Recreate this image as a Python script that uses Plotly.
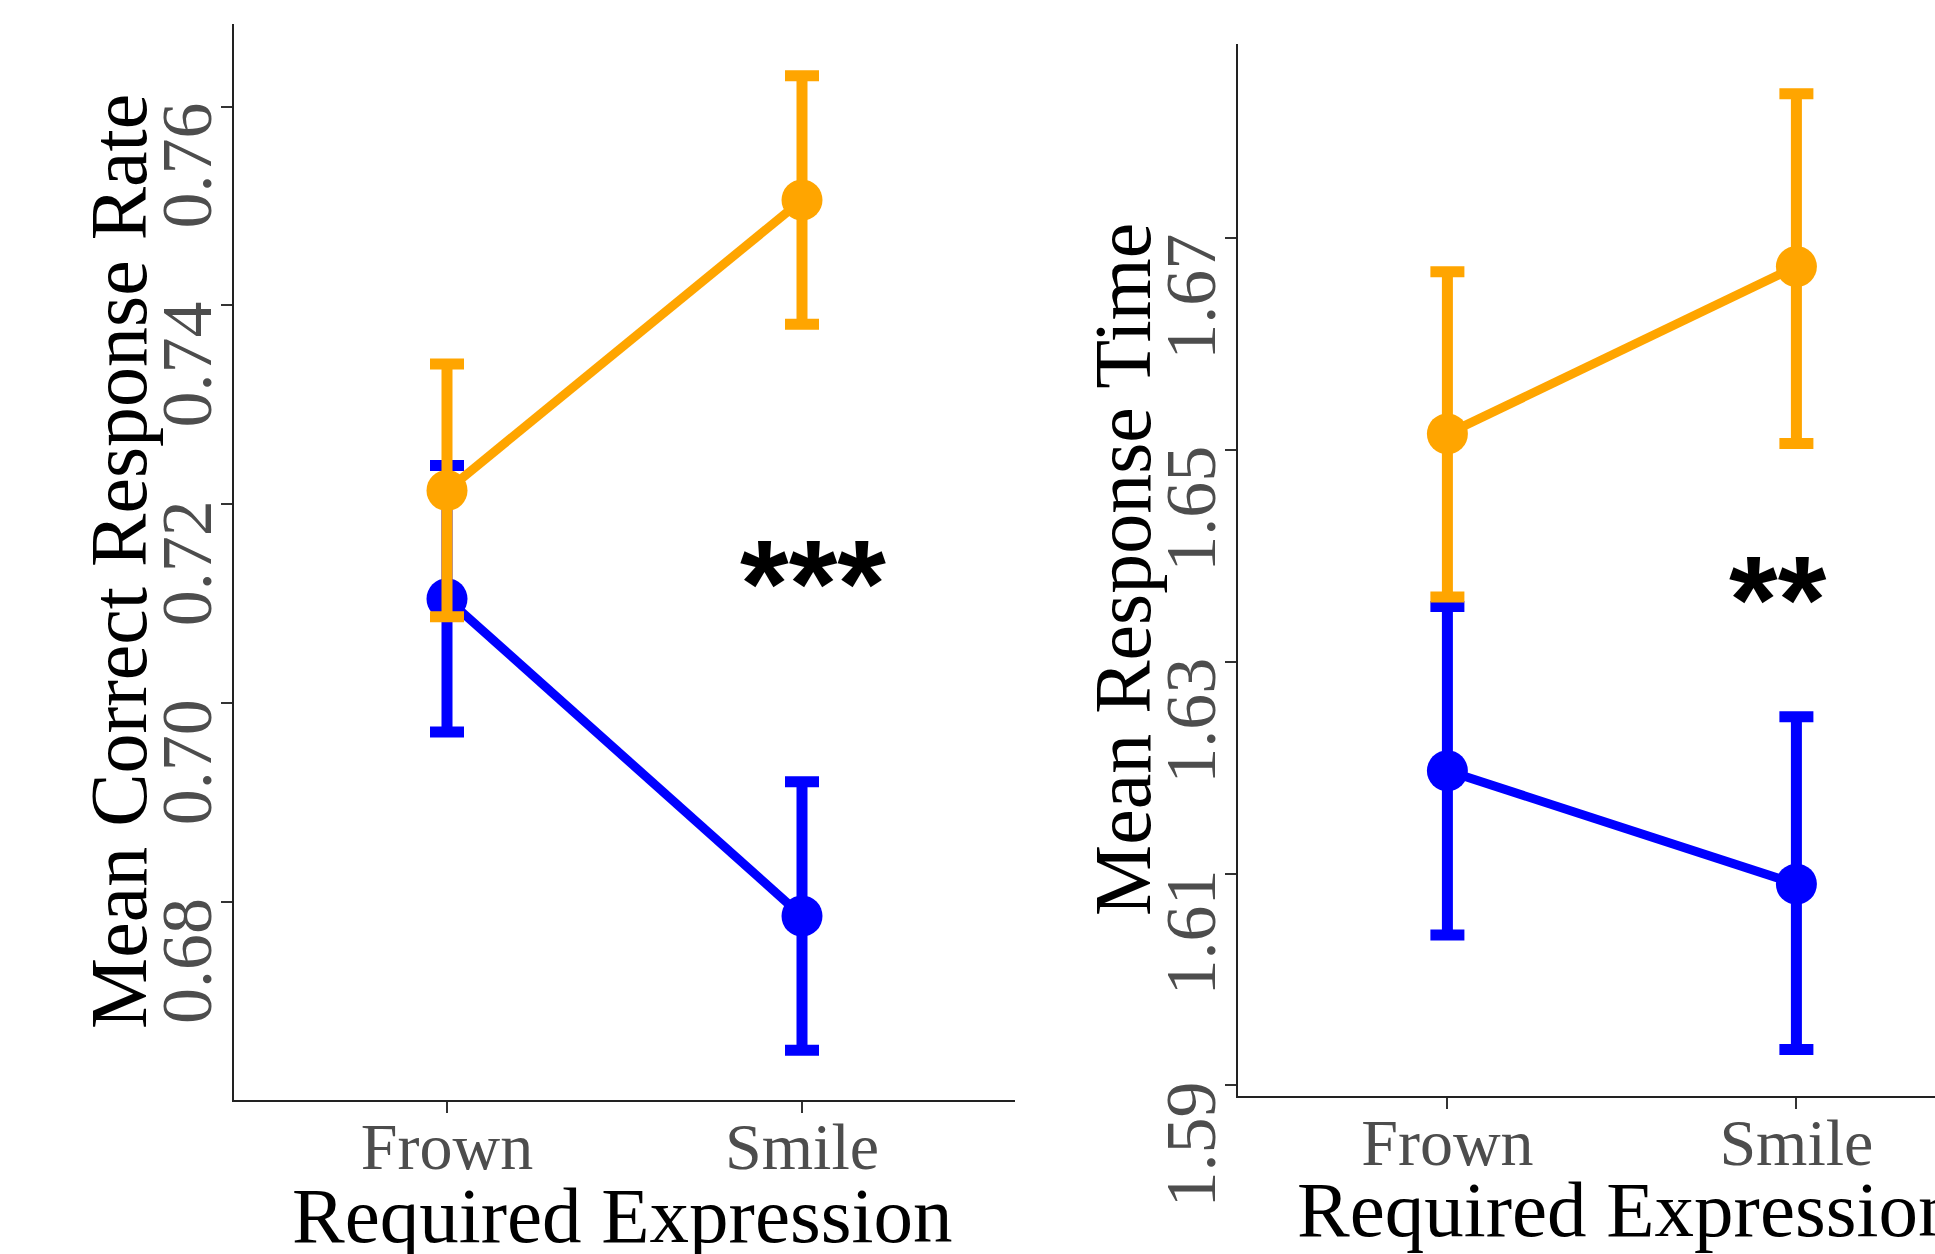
import plotly.graph_objects as go

categories = ["Frown", "Smile"]

# Left panel: Mean Correct Response Rate
acc_orange = [0.7214, 0.7506]
acc_orange_err = [0.0127, 0.0125]
acc_blue = [0.7105, 0.6786]
acc_blue_err = [0.0134, 0.0135]

# Right panel: Mean Response Time
rt_orange = [1.6515, 1.6673]
rt_orange_err = [1.6668 - 1.6515, 1.6836 - 1.6673]
rt_orange_err_minus = [1.6515 - 1.6361, 1.6673 - 1.6506]
rt_blue = [1.6197, 1.609]
rt_blue_err = [1.6352 - 1.6197, 1.6248 - 1.609]
rt_blue_err_minus = [1.6197 - 1.6042, 1.609 - 1.5934]

left_ticks = [0.68, 0.70, 0.72, 0.74, 0.76]
right_ticks = [1.59, 1.61, 1.63, 1.65, 1.67]
left_tick_labels = [f"{v:.2f}" for v in left_ticks]
right_tick_labels = [f"{v:.2f}" for v in right_ticks]

ORANGE = "#FFA500"
BLUE = "#0000FF"
SERIF = "Liberation Serif, Times New Roman, serif"

xpos = [1, 2]

fig = go.Figure()


def add_series(y, err_p, err_m, color, xa, ya):
    fig.add_trace(go.Scatter(
        x=xpos, y=y, mode="lines+markers",
        line=dict(color=color, width=9),
        marker=dict(color=color, size=41),
        error_y=dict(type="data", array=err_p, arrayminus=err_m, symmetric=False,
                     color=color, thickness=11, width=17),
        xaxis=xa, yaxis=ya, showlegend=False, hoverinfo="skip"))


add_series(acc_blue, acc_blue_err, acc_blue_err, BLUE, "x", "y")
add_series(acc_orange, acc_orange_err, acc_orange_err, ORANGE, "x", "y")
add_series(rt_blue, rt_blue_err, rt_blue_err_minus, BLUE, "x2", "y2")
add_series(rt_orange, rt_orange_err, rt_orange_err_minus, ORANGE, "x2", "y2")

W, H = 1935, 1254

axis_common = dict(
    showline=True, linecolor="#222222", linewidth=2,
    ticks="outside", ticklen=11, tickwidth=2, tickcolor="#333333",
    showgrid=False, zeroline=False, automargin=False,
)
xtick_font = dict(family=SERIF, size=66, color="#4D4D4D")
ytick_font = dict(family=SERIF, size=72, color="#4D4D4D")
ytitle_font = dict(family=SERIF, size=80, color="black")
xtitle_font = dict(family=SERIF, size=79, color="black")

annotations = [
    # axis titles
    dict(text="Required Expression", x=622 / W, y=1 - 1215 / H, xref="paper", yref="paper",
         showarrow=False, xanchor="center", yanchor="middle", font=xtitle_font),
    dict(text="Required Expression", x=1627 / W, y=1 - 1209 / H, xref="paper", yref="paper",
         showarrow=False, xanchor="center", yanchor="middle", font=xtitle_font),
    dict(text="Mean Correct Response Rate", x=119 / W, y=1 - 562 / H, xref="paper", yref="paper",
         showarrow=False, textangle=-90, xanchor="center", yanchor="middle", font=ytitle_font),
    dict(text="Mean Response Time", x=1123 / W, y=1 - 570 / H, xref="paper", yref="paper",
         showarrow=False, textangle=-90, xanchor="center", yanchor="middle", font=ytitle_font),
    # significance markers
    dict(text="<b>***</b>", x=2.03, y=0.7132, xref="x", yref="y",
         showarrow=False, yanchor="middle", yshift=-12,
         font=dict(family="Liberation Sans, Arial", size=125, color="black")),
    dict(text="<b>**</b>", x=1.946, y=1.637, xref="x2", yref="y2",
         showarrow=False, yanchor="middle", yshift=-12,
         font=dict(family="Liberation Sans, Arial", size=125, color="black")),
]

# rotated y tick labels, top-aligned at their ticks (as in the reference)
for v, t in zip(left_ticks, left_tick_labels):
    annotations.append(dict(text=t, x=229 / W, y=v, xref="paper", yref="y",
                            showarrow=False, textangle=-90, xanchor="right", yanchor="top",
                            yshift=6, font=ytick_font))
for v, t in zip(right_ticks, right_tick_labels):
    annotations.append(dict(text=t, x=1233 / W, y=v, xref="paper", yref="y2",
                            showarrow=False, textangle=-90, xanchor="right", yanchor="top",
                            yshift=6, font=ytick_font))

fig.update_layout(
    width=W, height=H,
    margin=dict(l=0, r=0, t=0, b=0),
    paper_bgcolor="white", plot_bgcolor="white",
    xaxis=dict(domain=[234 / W, 1015 / W], range=[0.4, 2.6],
               tickvals=xpos, ticktext=categories, anchor="y",
               tickfont=xtick_font, ticklabelstandoff=-23, **axis_common),
    yaxis=dict(domain=[1 - 1100 / H, 1 - 24 / H], range=[0.6601, 0.7683],
               tickvals=left_ticks, showticklabels=False, anchor="x", **axis_common),
    xaxis2=dict(domain=[1238 / W, 1.0], range=[0.4, 0.4 + (1935 - 1238) / 349],
                tickvals=xpos, ticktext=categories, anchor="y2",
                tickfont=xtick_font, ticklabelstandoff=-23, **axis_common),
    yaxis2=dict(domain=[1 - 1096 / H, 1 - 44 / H], range=[1.589, 1.6883],
                tickvals=right_ticks, showticklabels=False, anchor="x2", **axis_common),
    annotations=annotations,
)

fig.write_html("out.html", config={"displayModeBar": False},
               post_script="document.body.style.margin='0';document.body.style.overflow='hidden';")
